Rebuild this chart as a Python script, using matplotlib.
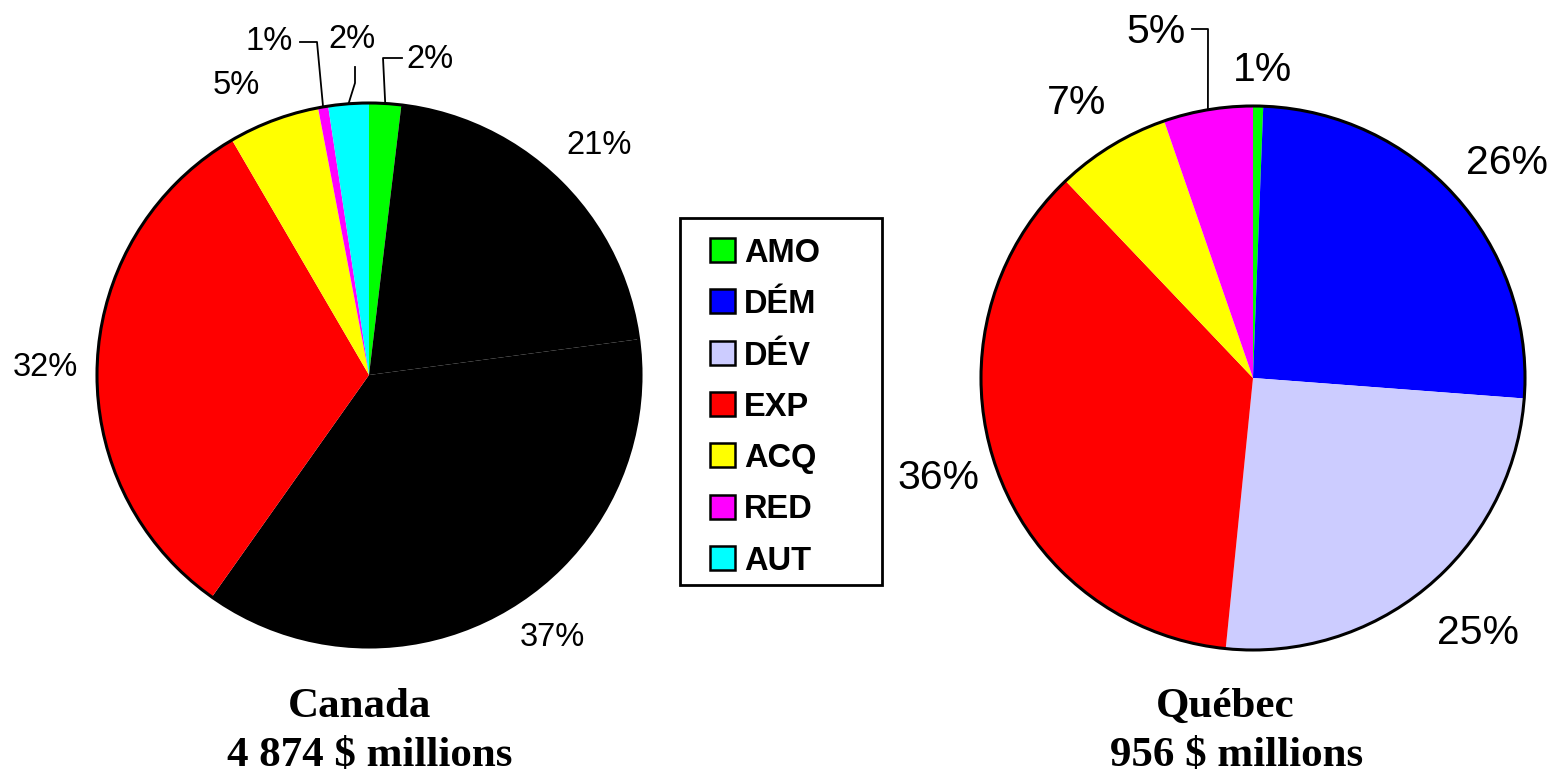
import numpy as np
import matplotlib.pyplot as plt
from matplotlib.patches import Circle, Rectangle

# categories and colours
categories = ['AMO', 'DÉM', 'DÉV', 'EXP', 'ACQ', 'RED', 'AUT']
legend_colors = ['#00ff00', '#0000ff', '#ccccff', '#ff0000', '#ffff00', '#ff00ff', '#00ffff']

# share of spending (%)
canada_vals = [1.9, 21.0, 36.9, 31.8, 5.4, 0.6, 2.4]
quebec_vals = [0.6, 25.6, 25.4, 36.3, 6.8, 5.3, 0.0]
canada_labels = ['2%', '21%', '37%', '32%', '5%', '1%', '2%']
quebec_labels = ['1%', '26%', '25%', '36%', '7%', '5%', '']

# in the Canada pie both DÉM and DÉV are drawn black
canada_colors = ['#00ff00', '#000000', '#000000', '#ff0000', '#ffff00', '#ff00ff', '#00ffff']

titles = [('Canada', '4 874 $ millions'), ('Québec', '956 $ millions')]

W, H = 1554, 774
R = 272


def fx(x):
    return x / W


def fy(y):
    return 1 - y / H


def pie_axes(fig, cx, cy):
    ax = fig.add_axes([(cx - R) / W, (H - cy - R) / H, 2 * R / W, 2 * R / H])
    ax.axis('off')
    return ax


def to_data(centre, p):
    return (p[0] - centre[0]) / R, (centre[1] - p[1]) / R


def draw_pie(ax, vals, colors, labels, centre, label_pos, leaders, fs):
    wedges, _ = ax.pie(vals, colors=colors, startangle=90, counterclock=False,
                       radius=1, wedgeprops=dict(linewidth=0))
    for w in wedges:
        w.set_clip_on(False)
    ax.add_patch(Circle((0, 0), 1, fill=False, ec='black', lw=2.2, zorder=5, clip_on=False))
    ax.set_xlim(-1, 1)
    ax.set_ylim(-1, 1)
    ax.set_aspect('equal')
    for i, w in enumerate(wedges):
        if not labels[i]:
            continue
        lx, ly = to_data(centre, label_pos[i])
        ax.text(lx, ly, labels[i], fontsize=fs, family='Liberation Sans',
                ha='center', va='center')
        if i in leaders:
            # leader line starts on the rim at the middle of the slice
            mid = np.deg2rad((w.theta1 + w.theta2) / 2)
            xs, ys = [np.cos(mid)], [np.sin(mid)]
            for p in leaders[i]:
                dx, dy = to_data(centre, p)
                xs.append(dx)
                ys.append(dy)
            ax.plot(xs, ys, color='black', lw=1.3, clip_on=False, zorder=6)


fig = plt.figure(figsize=(W / 100, H / 100), dpi=100)

c_centre = (369, 375)
ax1 = pie_axes(fig, *c_centre)
c_pos = [(430, 59), (599, 145), (552, 638), (45, 367), (236, 85), (269, 42), (352, 40)]
c_lead = {0: [(383, 58), (402, 58)], 6: [(355, 83), (355, 67)], 5: [(317, 42), (300, 42)]}
draw_pie(ax1, canada_vals, canada_colors, canada_labels, c_centre, c_pos, c_lead, 23.5)

q_centre = (1253, 378)
ax2 = pie_axes(fig, *q_centre)
q_pos = [(1262, 70), (1507, 163), (1478, 633), (938, 478), (1077, 103), (1156, 32), (0, 0)]
q_lead = {5: [(1208, 29), (1192, 29)]}
draw_pie(ax2, quebec_vals, legend_colors, quebec_labels, q_centre, q_pos, q_lead, 29.5)

# titles under each pie
for (line1, line2), x1, x2 in zip(titles, [360, 1225], [370, 1237]):
    fig.text(fx(x1), fy(717), line1, ha='center', va='baseline', fontsize=31,
             fontweight='bold', family='Liberation Serif')
    fig.text(fx(x2), fy(766), line2, ha='center', va='baseline', fontsize=31,
             fontweight='bold', family='Liberation Serif')

# legend box (Excel-style, drawn by hand)
fig.add_artist(Rectangle((fx(680), fy(585)), fx(202), (585 - 218) / H, transform=fig.transFigure,
                         fill=False, ec='black', lw=2))
for i, (cat, col) in enumerate(zip(categories, legend_colors)):
    yc = 250 + i * 51.3
    fig.add_artist(Rectangle((fx(710), fy(yc + 12)), fx(25), 24 / H, transform=fig.transFigure,
                             fc=col, ec='black', lw=1.8))
    fig.text(fx(744), fy(yc), cat, ha='left', va='center_baseline', fontsize=23.5,
             fontweight='bold', family='Liberation Sans')

fig.savefig('out.png', dpi=100)
